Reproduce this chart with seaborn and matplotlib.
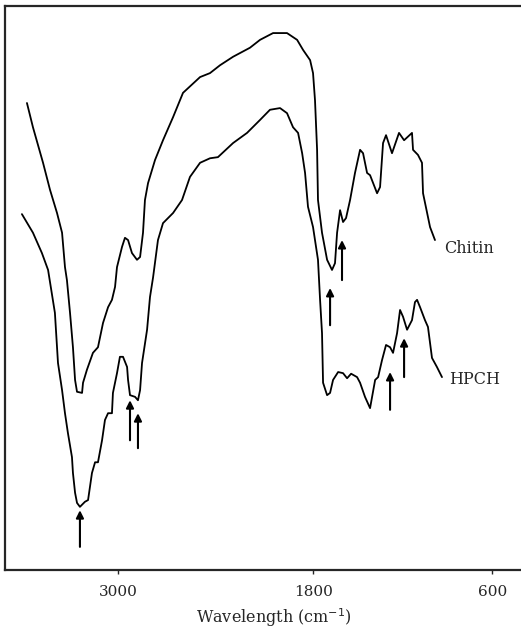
import numpy as np
import pandas as pd
import matplotlib
matplotlib.use("Agg")
import matplotlib.pyplot as plt
import seaborn as sns

# IR transmittance spectra (wavenumber in cm^-1, transmittance in arbitrary %)
chitin_wn = [3562, 3525, 3463, 3420, 3377, 3346, 3328, 3316, 3297, 3279, 3266, 3254,
             3223, 3217, 3193, 3156, 3125, 3094, 3063, 3039, 3020, 3008, 2977, 2959,
             2940, 2916, 2885, 2866, 2848, 2836, 2817, 2774, 2725, 2663, 2602, 2497,
             2436, 2374, 2294, 2190, 2128, 2048, 1962, 1900, 1863, 1820, 1802, 1789,
             1775, 1769, 1742, 1708, 1675, 1655, 1641, 1621, 1601, 1581, 1554, 1521,
             1487, 1467, 1440, 1420, 1373, 1353, 1333, 1313, 1273, 1226, 1192, 1139,
             1132, 1099, 1072, 1065, 1018, 985]
chitin_t = [82.8, 78.5, 72.2, 67.4, 63.3, 59.8, 53.7, 51.4, 45.6, 39.5, 33.7, 31.6,
            31.4, 33.2, 35.5, 38.5, 39.5, 43.8, 46.6, 47.9, 50.2, 53.7, 57.3, 58.9,
            58.5, 56.2, 55.0, 55.5, 59.8, 65.6, 68.6, 72.7, 76.2, 80.3, 84.6, 87.4,
            88.1, 89.5, 91.0, 92.6, 94.0, 95.2, 95.2, 94.0, 92.2, 90.4, 88.1, 83.3,
            74.5, 65.6, 59.8, 55.0, 53.2, 54.4, 59.8, 63.8, 61.7, 62.4, 65.6, 70.4,
            74.5, 73.9, 70.4, 70.0, 66.8, 67.9, 75.7, 77.1, 73.9, 77.5, 76.2, 77.5,
            74.5, 73.6, 72.2, 66.8, 60.8, 58.5]

hpch_wn = [3593, 3525, 3470, 3432, 3390, 3371, 3346, 3328, 3310, 3285, 3279, 3266,
           3254, 3236, 3205, 3186, 3162, 3143, 3125, 3100, 3082, 3063, 3039, 3033,
           3008, 2990, 2971, 2946, 2940, 2928, 2897, 2879, 2866, 2854, 2823, 2805,
           2786, 2756, 2725, 2663, 2608, 2559, 2497, 2436, 2387, 2294, 2208, 2128,
           2067, 2005, 1962, 1925, 1894, 1869, 1851, 1833, 1802, 1769, 1755, 1742,
           1735, 1708, 1688, 1668, 1634, 1601, 1574, 1547, 1507, 1487, 1454, 1420,
           1386, 1366, 1340, 1313, 1286, 1266, 1239, 1219, 1199, 1172, 1139, 1119,
           1105, 1085, 1052, 1032, 1005, 972, 938]
hpch_t = [63.1, 59.8, 56.2, 53.2, 45.6, 36.7, 31.9, 27.8, 24.3, 20.0, 17.2, 13.7,
          11.9, 11.2, 12.1, 12.4, 17.2, 19.1, 19.1, 23.0, 26.6, 27.8, 27.8, 31.4,
          34.9, 37.8, 37.8, 36.0, 33.7, 31.0, 30.7, 30.1, 31.9, 36.7, 42.6, 48.4,
          51.9, 58.5, 61.5, 63.3, 65.6, 69.7, 72.2, 73.0, 73.2, 75.7, 77.5, 79.8,
          81.6, 81.9, 81.0, 78.5, 77.5, 73.9, 70.4, 64.4, 60.8, 55.0, 47.9, 42.0,
          33.2, 31.0, 31.4, 33.7, 35.1, 34.9, 34.0, 34.8, 34.2, 33.2, 30.7, 28.7,
          33.7, 34.2, 37.2, 39.9, 39.5, 38.5, 42.0, 46.1, 44.9, 42.6, 44.3, 47.5,
          47.9, 46.6, 44.3, 43.1, 37.6, 36.0, 34.2]

series_names = ["Chitin", "HPCH"]
tick_values = [3000, 1800, 600]

# marked bands: (wavenumber, tail T, head T)
arrow_marks = [(1608, 51.4, 58.5), (1688, 43.4, 50.0),
               (2928, 23.0, 30.1), (2879, 21.6, 27.8), (3236, 4.1, 10.6),
               (1286, 28.4, 35.1), (1192, 34.2, 41.1)]

# series labels: (text, wavenumber, T)
label_pos = [("Chitin", 925, 57.0), ("HPCH", 890, 33.7)]

df = pd.concat([
    pd.DataFrame({"wn": chitin_wn, "T": chitin_t, "sample": series_names[0]}),
    pd.DataFrame({"wn": hpch_wn, "T": hpch_t, "sample": series_names[1]}),
])

sns.set_style("ticks")
plt.rcParams["font.family"] = ["DejaVu Serif"]

fig = plt.figure(figsize=(5.21, 6.31), dpi=100)
ax = fig.add_axes([5 / 521, 61 / 631, 1.0, 564 / 631])

# the chart's abscissa is compressed below 1800 cm^-1
K = 0.918
def fwd(w):
    w = np.asarray(w, dtype=float)
    return np.where(w >= 1800, w, 1800 - (1800 - w) * K)
def inv(u):
    u = np.asarray(u, dtype=float)
    return np.where(u >= 1800, u, 1800 - (1800 - u) / K)
ax.set_xscale("function", functions=(fwd, inv))

sns.lineplot(data=df, x="wn", y="T", hue="sample", units="sample",
             estimator=None, sort=False, palette=["black", "black"],
             linewidth=1.3, legend=False, ax=ax)

for wn, t0, t1 in arrow_marks:
    ax.annotate("", xy=(wn, t1), xytext=(wn, t0),
                arrowprops=dict(arrowstyle="-|>", color="black", lw=1.5,
                                mutation_scale=11, shrinkA=0, shrinkB=0))

for text, wn, t in label_pos:
    ax.text(wn, t, text, fontsize=11.5, va="center", ha="left")

ax.set_xlim(3697, 375)
ax.set_ylim(0, 100)
ax.set_xticks(tick_values)
ax.set_xticklabels([str(v) for v in tick_values], fontsize=11)
ax.set_yticks([])
ax.set_xlabel("Wavelength (cm$^{-1}$)", fontsize=11.5, labelpad=6)
ax.xaxis.set_label_coords(0.517, -0.064)
ax.set_ylabel("")
ax.tick_params(axis="x", direction="out", length=3, width=1, pad=8)
for side in ["left", "top", "bottom"]:
    ax.spines[side].set_linewidth(1.6)
    ax.spines[side].set_visible(True)
ax.spines["right"].set_visible(False)

fig.savefig("out.png", dpi=100)
